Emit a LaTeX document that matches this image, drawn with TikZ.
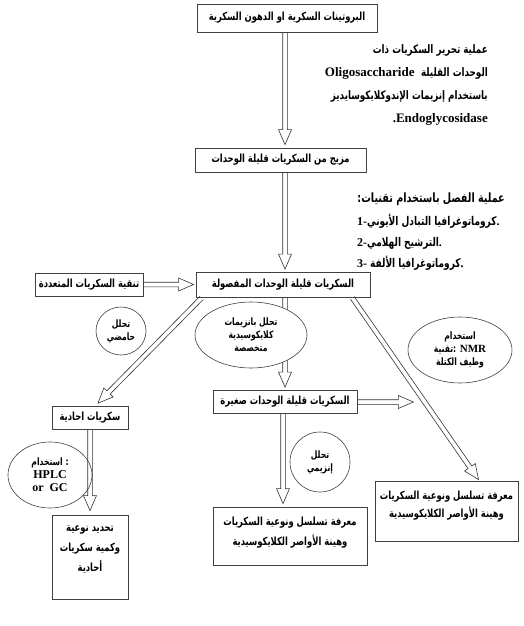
\documentclass[tikz,border=0pt]{standalone}
\usepackage{fontspec}
\setmainfont{Liberation Serif}
\newfontfamily\arabicfont[Script=Arabic,FakeStretch=0.75]{DejaVu Sans}
\TeXXeTstate=1
\usetikzlibrary{calc,positioning,shapes.geometric}
\newcommand{\ar}[1]{{\arabicfont\beginR#1\endR}}
\newcommand{\blockarrow}[2]{%
  \coordinate (ba-s) at (#1);
  \coordinate (ba-e) at (#2);
  \coordinate (ba-b) at ($(ba-e)!15pt!(ba-s)$);
  \draw[arrowline] ($(ba-s)!2.3pt!90:(ba-e)$) -- ($(ba-b)!2.3pt!-90:(ba-s)$)
    -- ($(ba-b)!6.5pt!-90:(ba-s)$) -- (ba-e) -- ($(ba-b)!6.5pt!90:(ba-s)$)
    -- ($(ba-b)!2.3pt!90:(ba-s)$) -- ($(ba-s)!2.3pt!-90:(ba-e)$);
}
\begin{document}
\begin{tikzpicture}[
    x=1pt, y=-1pt,
    box/.style={draw=black!75, line width=0.8pt, fill=white, inner sep=0pt, font=\arabicfont\bfseries\fontsize{11.2}{12}\selectfont},
    oval/.style={ellipse, draw=black!75, line width=0.6pt, fill=white, inner sep=0pt, align=center, font=\arabicfont\bfseries\fontsize{10.2}{13}\selectfont},
    boxtext/.style={inner sep=0pt, align=center, font=\arabicfont\bfseries\fontsize{11.2}{20}\selectfont},
    note/.style={inner sep=0pt, font=\bfseries\fontsize{13}{15}\selectfont},
    note ar/.style={inner sep=0pt, font=\arabicfont\bfseries\fontsize{11.7}{15}\selectfont},
    step note/.style={inner sep=0pt, font=\bfseries\fontsize{12}{14}\selectfont},
    step ar/.style={inner sep=0pt, font=\arabicfont\bfseries\fontsize{12.8}{14}\selectfont},
    arrowline/.style={draw=black!80, line width=0.6pt, line join=miter}
]
\useasboundingbox (0,0) rectangle (523,626);
\coordinate (spine) at (285,0);

\node[box, minimum width=180pt, minimum height=28pt] (top) at (287,18) {\ar{البروتينات السكرية او الدهون السكرية}};
\node[box, minimum width=171pt, minimum height=24pt] (mix) at (280.5,160) {\ar{مزيج من السكريات قليلة الوحدات}};
\node[box, minimum width=174pt, minimum height=25pt] (sep) at (283,285) {\ar{السكريات قليلة الوحدات المفصولة}};
\node[box, minimum width=108pt, minimum height=23pt] (purify) at (89,284.5) {\ar{تنقية السكريات المتعددة}};
\node[box, minimum width=76pt, minimum height=23pt] (mono) at (90,418) {\ar{سكريات احادية}};
\node[box, minimum width=144pt, minimum height=23pt] (small) at (285,402) {\ar{السكريات قليلة الوحدات صغيرة}};
\node[box, minimum width=154pt, minimum height=58pt] (seqmid) at (290,536) {};
\node[boxtext, below=10pt of seqmid.north] (seqmidtext) {\ar{معرفة تسلسل ونوعية السكريات}\\\ar{وهينة الأواصر الكلايكوسيدية}};
\node[box, minimum width=143pt, minimum height=60pt] (seqright) at (446.5,511) {};
\node[boxtext, below=10pt of seqright.north, font=\arabicfont\bfseries\fontsize{11.2}{18}\selectfont] (seqrighttext) {\ar{معرفة تسلسل ونوعية السكريات}\\\ar{وهينة الأواصر الكلايكوسيدية}};
\node[box, minimum width=76pt, minimum height=84pt] (quant) at (90,557) {};
\node[boxtext, below=11pt of quant.north] (quanttext) {\ar{تحديد نوعية}\\\ar{وكمية سكريات}\\\ar{أحادية}};

\node[note ar, anchor=east] (rel1) at (488,50) {\ar{عملية تحرير السكريات ذات}};
\node[note, anchor=east] (rel2) at (488,73) {Oligosaccharide\ \ {\arabicfont\fontsize{11.7}{15}\selectfont\beginR الوحدات القليلة\endR}};
\node[note ar, anchor=east] (rel3) at (488,96) {\ar{باستخدام إنزيمات الإندوكلايكوسايديز}};
\node[note, anchor=east] (rel4) at (488,119) {.Endoglycosidase};

\node[step ar, anchor=east] (how) at (505,199) {\ar{عملية الفصل باستخدام تقنيات:}};
\node[step note, anchor=west] (how1) at (357,221) {1-{\arabicfont\fontsize{12}{14}\selectfont\beginR كروماتوغرافيا التبادل الأيوني\endR}.};
\node[step note, anchor=west] (how2) at (357,243) {2-{\arabicfont\fontsize{12}{14}\selectfont\beginR الترشيح الهلامي\endR}.};
\node[step note, anchor=west] (how3) at (357,263) {3- {\arabicfont\fontsize{12}{14}\selectfont\beginR كروماتوغرافيا الألفة\endR}.};

\node[oval, minimum width=84pt, minimum height=66pt] (hplc) at (50,475) {\ar{استخدام} :\\{\rmfamily\fontsize{12}{14}\selectfont HPLC}\\{\rmfamily\fontsize{12}{14}\selectfont or\ \ GC}};

\blockarrow{top.south -| spine}{$(mix.north -| spine)+(0,-3)$}
\blockarrow{mix.south -| spine}{$(sep.north -| spine)+(0,-3)$}
\blockarrow{purify.east}{$(sep.west |- purify.east)+(-2,0)$}
\blockarrow{$(sep.south west)+(6,0)$}{$(mono.north)+(8,-3)$}
\blockarrow{$(sep.south east)+(-18,0)$}{$(seqright.north)+(32,-1)$}
\blockarrow{sep.south -| spine}{$(small.north -| spine)+(0,-3)$}
\coordinate (smalltip) at ($(small.east)+(56,0)$);
\blockarrow{small.east}{smalltip}
\blockarrow{$(small.south -| spine)+(-2,0)$}{$(seqmid.north -| spine)+(-2,-3)$}
\blockarrow{mono.south}{$(quant.north)+(0,-4)$}

\node[oval, minimum width=50pt, minimum height=48pt] (acid) at (121,331) {\ar{تحلل}\\\ar{حامضي}};
\node[oval, minimum width=112pt, minimum height=66pt] (glyco) at (251,335) {\ar{تحلل بانزيمات}\\\ar{كلايكوسيدية}\\\ar{متخصصة}};
\node[oval, minimum width=104pt, minimum height=66pt] (nmr) at (460,350) {\ar{استخدام}\\\ar{تقنية}: {\rmfamily\fontsize{11}{13}\selectfont NMR}\\\ar{وطيف الكتلة}};
\node[oval, minimum width=60pt, minimum height=60pt] (enzyme) at (320,462) {\ar{تحلل}\\\ar{إنزيمي}};
\end{tikzpicture}
\end{document}
